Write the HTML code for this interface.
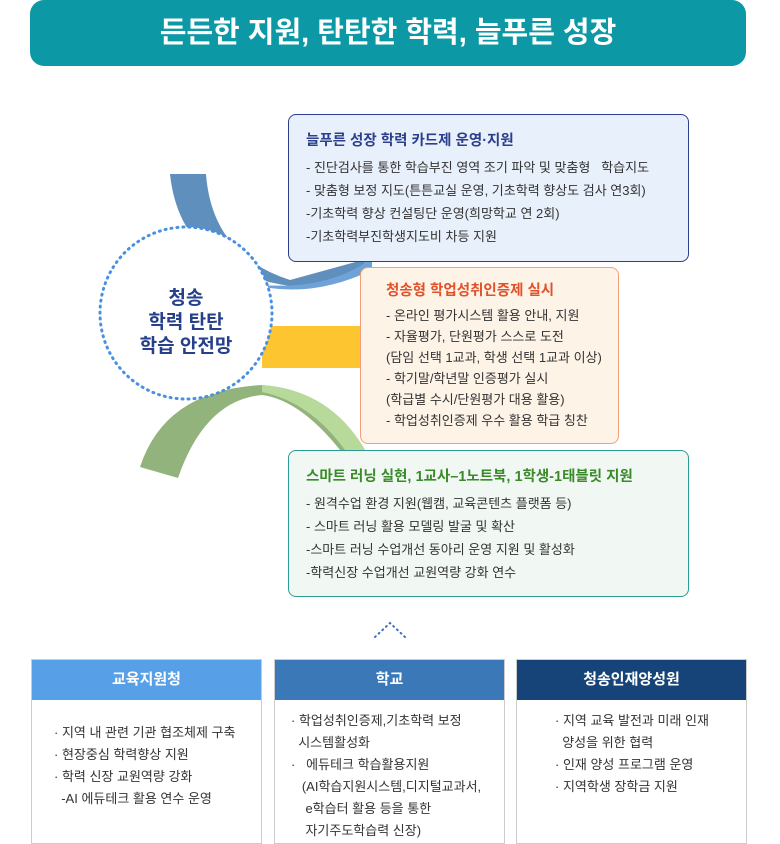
<!DOCTYPE html>
<html><head><meta charset="utf-8"><style>
body{margin:0;width:780px;height:844px;background:#fff;font-family:"Liberation Sans","Noto Sans CJK KR",sans-serif;position:relative;overflow:hidden}
.abs{position:absolute}
.hdr{left:30px;top:0;width:716px;height:66px;background:#0d98a6;border-radius:14px;color:#fff;font-size:29px;font-weight:bold;text-align:center;line-height:66px}
.box{position:absolute;border-radius:8px;font-size:13px;color:#333;line-height:23px;box-sizing:border-box}
.box .t{font-size:14.5px;font-weight:bold;margin-bottom:3px}
.bb{position:absolute;top:659px;width:231px;height:185px;border:1px solid #ccc;box-sizing:border-box;font-size:13px;color:#333;line-height:22px}
.bb .h{height:40px;color:#fff;font-weight:bold;font-size:15px;text-align:center;line-height:40px}
</style></head><body>
<div class="abs hdr">든든한 지원, 탄탄한 학력, 늘푸른 성장</div>
<svg class="abs" style="left:0;top:0" width="780" height="640">
<path d="M170 174 L206 174 Q212 255 290 280 L370 258 Q340 290 290 286 Q180 270 170 174Z" fill="#5f8fbd"/>
<path d="M260 285 Q330 290 372 258 L372 270 Q320 295 270 288Z" fill="#6fa2d6"/>
<rect x="262" y="326" width="100" height="42" fill="#fdc530"/>
<path d="M140 467 Q165 390 262 385 Q330 390 365 450 L340 450 Q300 400 262 395 Q205 400 178 478Z" fill="#93b37c"/>
<path d="M262 385 Q330 390 365 450 L345 450 Q310 402 262 392Z" fill="#b7d99a"/>
<circle cx="186" cy="313" r="86" fill="#fff" stroke="#4a90e2" stroke-width="3" stroke-dasharray="1 5" stroke-linecap="round"/>
<text x="186" y="304" text-anchor="middle" font-size="19" font-weight="bold" fill="#27408b" font-family="Liberation Sans,Noto Sans CJK KR,sans-serif">청송</text>
<text x="186" y="328" text-anchor="middle" font-size="19" font-weight="bold" fill="#27408b" font-family="Liberation Sans,Noto Sans CJK KR,sans-serif">학력 탄탄</text>
<text x="186" y="352" text-anchor="middle" font-size="19" font-weight="bold" fill="#27408b" font-family="Liberation Sans,Noto Sans CJK KR,sans-serif">학습 안전망</text>
<path d="M375 637 L390 623 L405 637" fill="none" stroke="#3b6fc4" stroke-width="2" stroke-dasharray="1 4" stroke-linecap="round"/>
</svg>
<div class="box" style="left:288px;top:114px;width:401px;height:148px;background:#e8f0fb;border:1.5px solid #2b3f8c;padding:15px 0 0 17px">
<div class="t" style="color:#2b3f8c">늘푸른 성장 학력 카드제 운영·지원</div>
- 진단검사를 통한 학습부진 영역 조기 파악 및 맞춤형 &nbsp; 학습지도<br>- 맞춤형 보정 지도(튼튼교실 운영, 기초학력 향상도 검사 연3회)<br>-기초학력 향상 컨설팅단 운영(희망학교 연 2회)<br>-기초학력부진학생지도비 차등 지원</div>
<div class="box" style="left:360px;top:267px;width:259px;height:177px;background:#fdf3e7;border:1px solid #f2a07a;padding:13px 0 0 25px;line-height:21px">
<div class="t" style="color:#e0522a">청송형 학업성취인증제 실시</div>
- 온라인 평가시스템 활용 안내, 지원<br>- 자율평가, 단원평가 스스로 도전<br>(담임 선택 1교과, 학생 선택 1교과 이상)<br>- 학기말/학년말 인증평가 실시<br>(학급별 수시/단원평가 대용 활용)<br>- 학업성취인증제 우수 활용 학급 칭찬</div>
<div class="box" style="left:288px;top:450px;width:401px;height:147px;background:#f1f8f4;border:1px solid #2a9b95;padding:15px 0 0 17px">
<div class="t" style="color:#3a8a2a">스마트 러닝 실현, 1교사–1노트북, 1학생-1태블릿 지원</div>
- 원격수업 환경 지원(웹캠, 교육콘텐츠 플랫폼 등)<br>- 스마트 러닝 활용 모델링 발굴 및 확산<br>-스마트 러닝 수업개선 동아리 운영 지원 및 활성화<br>-학력신장 수업개선 교원역량 강화 연수</div>
<div class="bb" style="left:31px"><div class="h" style="background:#57a0e8">교육지원청</div><div style="padding:22px 0 0 22px">· 지역 내 관련 기관 협조체제 구축<br>· 현장중심 학력향상 지원<br>· 학력 신장 교원역량 강화<br>&nbsp; -AI 에듀테크 활용 연수 운영</div></div>
<div class="bb" style="left:274px"><div class="h" style="background:#3a78b8">학교</div><div style="padding:10px 0 0 16px">· 학업성취인증제,기초학력 보정<br>&nbsp; 시스템활성화<br>· &nbsp; 에듀테크 학습활용지원<br>&nbsp;&nbsp; (AI학습지원시스템,디지털교과서,<br>&nbsp;&nbsp;&nbsp; e학습터 활용 등을 통한<br>&nbsp;&nbsp;&nbsp; 자기주도학습력 신장)</div></div>
<div class="bb" style="left:516px"><div class="h" style="background:#174478">청송인재양성원</div><div style="padding:10px 0 0 38px">· 지역 교육 발전과 미래 인재<br>&nbsp; 양성을 위한 협력<br>· 인재 양성 프로그램 운영<br>· 지역학생 장학금 지원</div></div>
</body></html>
